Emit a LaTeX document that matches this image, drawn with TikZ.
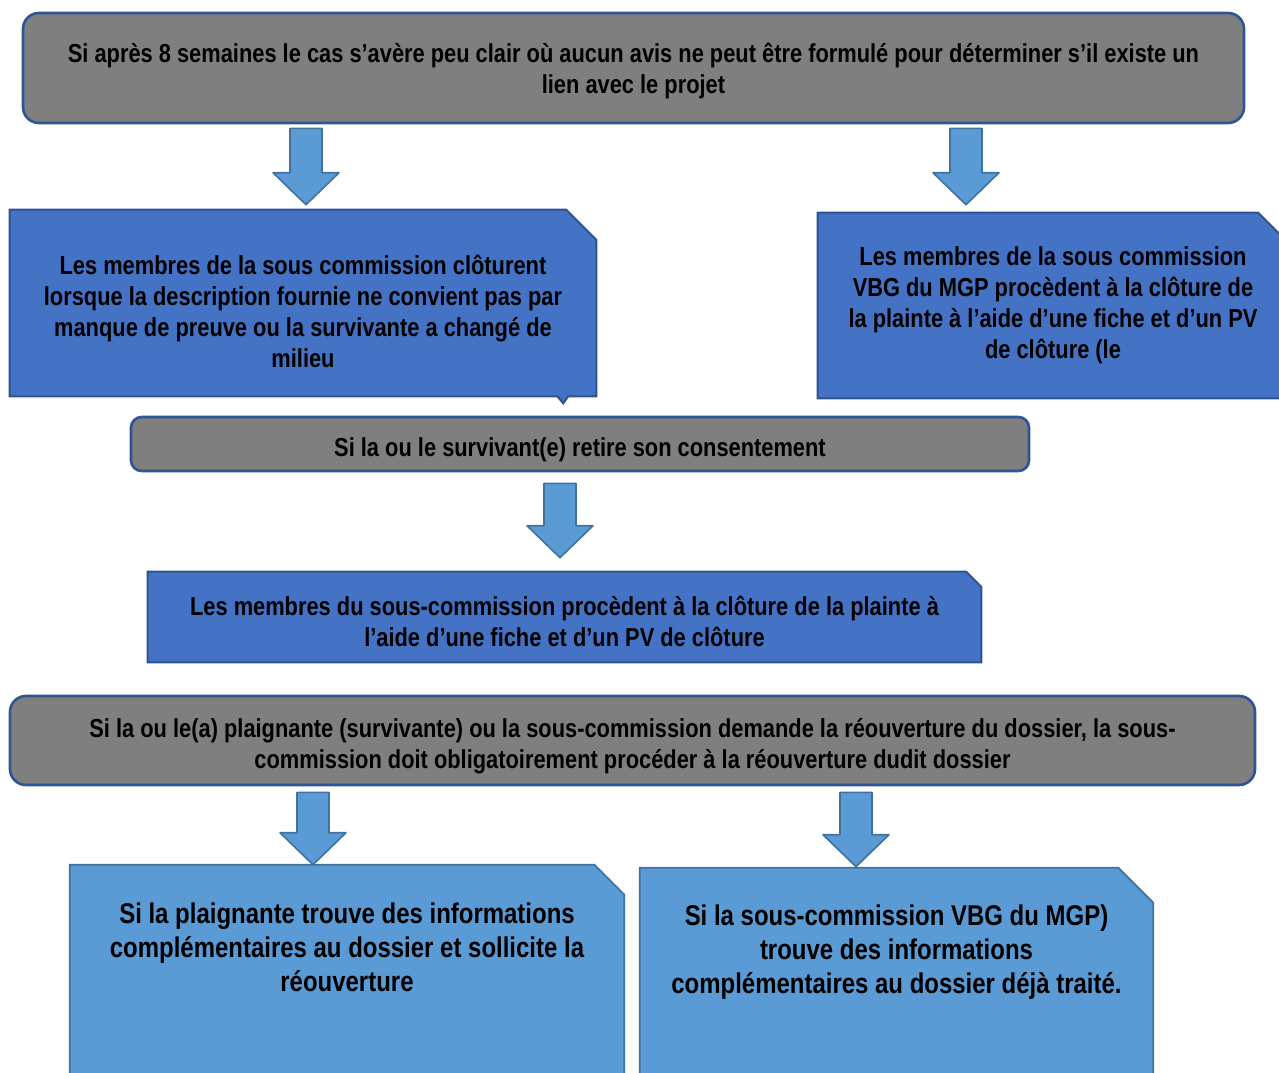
\documentclass[tikz,border=0pt]{standalone}
\usepackage{fontspec}
\setmainfont{Liberation Sans}[FakeStretch=0.84]
\usetikzlibrary{calc,backgrounds}
\definecolor{greyfill}{HTML}{7F7F7F}
\definecolor{greyline}{HTML}{2F5597}
\definecolor{darkfill}{HTML}{4472C4}
\definecolor{darkline}{HTML}{2F528F}
\definecolor{lightfill}{HTML}{5B9BD5}
\definecolor{lightline}{HTML}{41719C}
% invisible strut to push the text down a little
\newcommand\strutdn[1]{\rule{0pt}{#1}}
% box with the top right corner cut off
\newcommand\snipbox[3]{\draw[#3] (#1.south west)--(#1.north west)--([xshift=-#2]#1.north east)--([yshift=-#2]#1.north east)--(#1.south east)--cycle;}
% block arrow: x, from, to, gap at top, gap at tip
\newcommand\blkarrow[5]{\path (#1,0 |- #2.south) coordinate (s) (#1,0 |- #3.north) coordinate (e);
\draw[blk] ([shift={(-16,#4)}]s)--([shift={(16,#4)}]s)--([shift={(16,-#5-32)}]e)--([shift={(33,-#5-32)}]e)--([shift={(0,-#5)}]e)--([shift={(-33,-#5-32)}]e)--([shift={(-16,-#5-32)}]e)--cycle;}
\begin{document}
\begin{tikzpicture}[x=0.75pt,y=-0.75pt,line join=round,font=\bfseries\fontsize{19.5pt}{23.25pt}\selectfont,
greybox/.style={draw=greyline,line width=2pt,fill=greyfill,rounded corners=12pt,inner sep=0pt,align=center},
txt/.style={inner sep=0pt,align=center},
darkbox/.style={draw=darkline,line width=1.5pt,fill=darkfill},
lightbox/.style={draw=lightline,line width=1.3pt,fill=lightfill},
blk/.style={draw=lightline,line width=1.2pt,fill=lightfill}]
\useasboundingbox (0,0) rectangle (1279,1073);
\node[greybox,minimum width=915.75pt,minimum height=82.5pt] (q1) at (633.5,68)
{\strutdn{19.5pt}Si après 8 semaines le cas s’avère peu clair où aucun avis ne peut être formulé pour déterminer s’il existe un\\lien avec le projet};
\node[txt,minimum width=439.5pt,minimum height=139.5pt] (a1) at (303,303)
{\strutdn{27pt}Les membres de la sous commission clôturent\\lorsque la description fournie ne convient pas par\\manque de preuve ou la survivante a changé de\\milieu};
\node[txt,minimum width=352.5pt,minimum height=138.75pt] (a2) at (1053,305.5)
{Les membres de la sous commission\\VBG du MGP procèdent à la clôture de\\la plainte à l’aide d’une fiche et d’un PV\\de clôture (le};
\node[greybox,minimum width=673.5pt,minimum height=40.5pt,rounded corners=8pt] (q2) at (580,444)
{\strutdn{23pt}Si la ou le survivant(e) retire son consentement};
\node[txt,minimum width=624.75pt,minimum height=67.5pt] (a3) at (564.5,617)
{\strutdn{21pt}Les membres du sous-commission procèdent à la clôture de la plainte à\\l’aide d’une fiche et d’un PV de clôture};
\node[greybox,minimum width=933.75pt,minimum height=66.75pt] (q3) at (632.5,740.5)
{\strutdn{22.5pt}Si la ou le(a) plaignante (survivante) ou la sous-commission demande la réouverture du dossier, la sous-\\commission doit obligatoirement procéder à la réouverture dudit dossier};
\node[inner sep=0pt,font=\bfseries\fontsize{21.4pt}{25.5pt}\selectfont] (b1) at (347,985)
{\parbox[c][180pt][t]{415.5pt}{\centering\vspace*{28pt}Si la plaignante trouve des informations\\complémentaires au dossier et sollicite la\\réouverture}};
\node[inner sep=0pt,font=\bfseries\fontsize{21.4pt}{25.5pt}\selectfont] (b2) at (896.5,986.5)
{\parbox[c][177.75pt][t]{384.75pt}{\centering\vspace*{27.5pt}Si la sous-commission VBG du MGP)\\trouve des informations\\complémentaires au dossier déjà traité.}};
\begin{scope}[on background layer]
\draw[darkbox] (a1.south west)--(a1.north west)--([xshift=-22.5pt]a1.north east)--([yshift=-22.5pt]a1.north east)--(a1.south east)
--([shift={(-28,0)}]a1.south east)--([shift={(-33,7)}]a1.south east)--([shift={(-39,0)}]a1.south east)--cycle;
\snipbox{a2}{22.5pt}{darkbox}
\snipbox{a3}{11.25pt}{darkbox}
\snipbox{b1}{22.5pt}{lightbox}
\snipbox{b2}{26.25pt}{lightbox}
\end{scope}
\blkarrow{306}{q1}{a1}{4}{5}
\blkarrow{966}{q1}{a2}{4}{8}
\blkarrow{560}{q2}{a3}{11}{14}
\blkarrow{313}{q3}{b1}{6}{0}
\blkarrow{856}{q3}{b2}{6}{1}
\end{tikzpicture}
\end{document}
